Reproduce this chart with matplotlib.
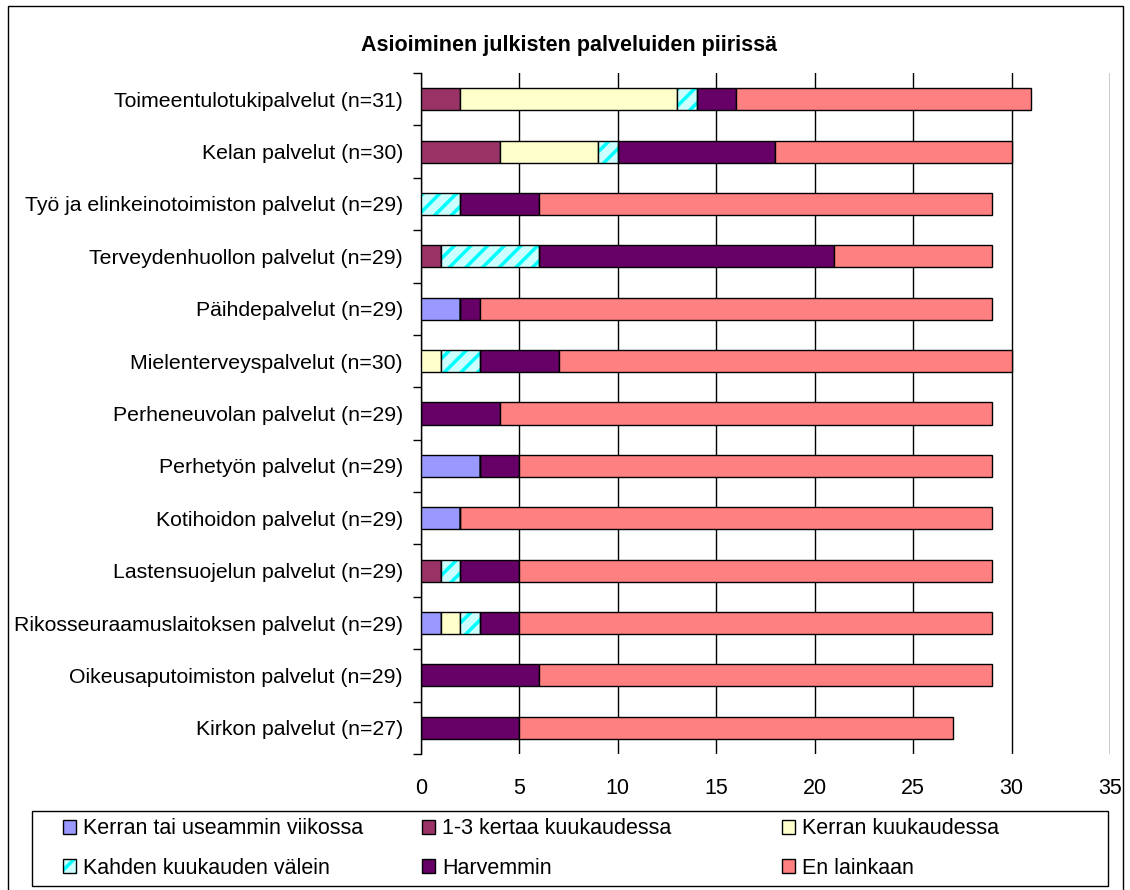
import matplotlib.pyplot as plt
from matplotlib.patches import Patch, Rectangle
import numpy as np

plt.rcParams['font.family'] = ['Liberation Sans', 'DejaVu Sans']
plt.rcParams['hatch.linewidth'] = 2.5

categories = ['Toimeentulotukipalvelut (n=31)',
              'Kelan palvelut (n=30)',
              'Työ ja elinkeinotoimiston palvelut (n=29)',
              'Terveydenhuollon palvelut (n=29)',
              'Päihdepalvelut (n=29)',
              'Mielenterveyspalvelut (n=30)',
              'Perheneuvolan palvelut (n=29)',
              'Perhetyön palvelut (n=29)',
              'Kotihoidon palvelut (n=29)',
              'Lastensuojelun palvelut (n=29)',
              'Rikosseuraamuslaitoksen palvelut (n=29)',
              'Oikeusaputoimiston palvelut (n=29)',
              'Kirkon palvelut (n=27)']

series_names = ['Kerran tai useammin viikossa', '1-3 kertaa kuukaudessa',
                'Kerran kuukaudessa', 'Kahden kuukauden välein',
                'Harvemmin', 'En lainkaan']

viikossa = [0, 0, 0, 0, 2, 0, 0, 3, 2, 0, 1, 0, 0]
kertaa_1_3 = [2, 4, 0, 1, 0, 0, 0, 0, 0, 1, 0, 0, 0]
kerran_kk = [11, 5, 0, 0, 0, 1, 0, 0, 0, 0, 1, 0, 0]
kahden_kk = [1, 1, 2, 5, 0, 2, 0, 0, 0, 1, 1, 0, 0]
harvemmin = [2, 8, 4, 15, 1, 4, 4, 2, 0, 3, 2, 6, 5]
en_lainkaan = [15, 12, 23, 8, 26, 23, 25, 24, 27, 24, 24, 23, 22]

colors = ['#9999FF', '#993366', '#FFFFCC', '#CCFFFF', '#660066', '#FF8080']

fig = plt.figure(figsize=(11.3, 8.9), dpi=100)
ax = fig.add_axes([421 / 1130, 1 - 754 / 890, 689 / 1130, 681 / 890])

y = np.arange(len(categories))
left = np.zeros(len(categories))
data = [viikossa, kertaa_1_3, kerran_kk, kahden_kk, harvemmin, en_lainkaan]
for i, vals in enumerate(data):
    vals = np.array(vals, dtype=float)
    if i == 3:
        # hatch in cyan, outline in black -> two layers
        ax.barh(y, vals, left=left, height=0.42, color=colors[i],
                edgecolor='#00FFFF', hatch='//', linewidth=0, zorder=3)
        ax.barh(y, vals, left=left, height=0.42, facecolor='none',
                edgecolor='black', linewidth=1.0, zorder=4)
    else:
        ax.barh(y, vals, left=left, height=0.42, color=colors[i],
                edgecolor='black', linewidth=1.0, zorder=3)
    left += vals

ax.set_xlim(0, 35)
ax.set_ylim(len(categories) - 0.5, -0.5)
ax.set_xticks(range(0, 36, 5))
ax.tick_params(axis='x', length=0, pad=17, labelsize=15.5)
ax.xaxis.grid(True, color='black', linewidth=1.0)
ax.set_axisbelow(True)

ax.set_yticks(np.arange(-0.5, len(categories), 1))
ax.set_yticklabels([])
ax.set_yticks(y, minor=True)
ax.set_yticklabels(categories, minor=True)
ax.tick_params(axis='y', which='major', length=6, width=1)
ax.tick_params(axis='y', which='minor', length=0, pad=13, labelsize=15.3)

for s in ['top', 'right', 'bottom']:
    ax.spines[s].set_visible(False)
ax.spines['left'].set_linewidth(1)

fig.text(569 / 1130, 1 - 45 / 890, 'Asioiminen julkisten palveluiden piirissä',
         ha='center', va='center', fontsize=15.5, fontweight='bold')

# legend: three columns of two entries, one frame around all
handles = []
for i, name in enumerate(series_names):
    if i == 3:
        handles.append((Patch(facecolor=colors[i], edgecolor='#00FFFF', hatch='//', linewidth=0),
                        Patch(facecolor='none', edgecolor='black')))
    else:
        handles.append(Patch(facecolor=colors[i], edgecolor='black'))

col_x = [63, 422, 782]
for c in range(3):
    idx = [c, c + 3]
    fig.legend([handles[k] for k in idx], [series_names[k] for k in idx],
               loc='center left', bbox_to_anchor=(col_x[c] / 1130, 1 - 848.5 / 890),
               fontsize=15.5, frameon=False, handlelength=0.62, handleheight=0.62,
               handletextpad=0.3, labelspacing=0.85, borderpad=0, borderaxespad=0)

fig.patches.append(Rectangle((32 / 1130, 1 - 886 / 890), 1076 / 1130, 75 / 890,
                             transform=fig.transFigure, fill=False,
                             edgecolor='black', linewidth=1))

fig.patches.append(Rectangle((8 / 1130, -0.02), 1115 / 1130, 1.02 - 6 / 890,
                             transform=fig.transFigure, fill=False,
                             edgecolor='black', linewidth=1))

fig.savefig('out.png', dpi=100)
